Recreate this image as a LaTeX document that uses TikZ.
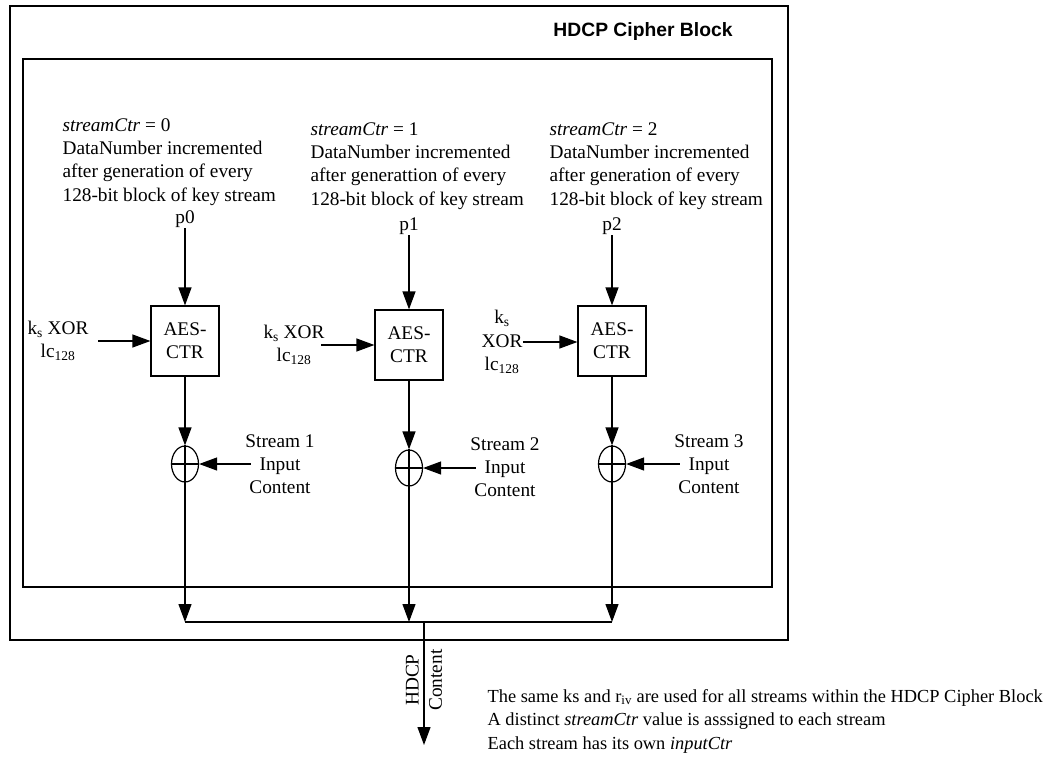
\documentclass[tikz,border=0pt]{standalone}
\usepackage{fontspec}
\setmainfont{Liberation Serif}
\newfontfamily\titlefont{Liberation Sans}
\usetikzlibrary{arrows.meta,shapes.geometric}
\begin{document}
\begin{tikzpicture}[x=1pt,y=-1pt,line width=1.2pt,
  txt/.style={inner sep=0pt,font=\fontsize{19.3}{23.2}\selectfont},
  aesbox/.style={draw,minimum width=68pt,minimum height=70pt,inner sep=0pt,align=center,
    font=\fontsize{19.3}{23.2}\selectfont},
  xorc/.style={draw,ellipse,minimum width=27pt,minimum height=36pt,inner sep=0pt},
  arr/.style={-{Triangle[length=18pt,width=13pt]}},
  frame/.style={draw,line width=1.2pt}]
\useasboundingbox (0,0) rectangle (1051,765);
% frames
\draw[frame] (10,6) rectangle (788,640);
\draw[frame] (23,59) rectangle (772,587);
\node[inner sep=0pt,font=\titlefont\bfseries\fontsize{19.3}{23.2}\selectfont] (title) at (643,32) {HDCP Cipher Block};
% column texts
\node[txt,anchor=west,align=left] (t0) at (62,162) {\textit{streamCtr} = 0\\DataNumber incremented\\after generation of every\\128-bit block of key stream};
\node[txt,anchor=west,align=left] (t1) at (310,166) {\textit{streamCtr} = 1\\DataNumber incremented\\after generattion of every\\128-bit block of key stream};
\node[txt,anchor=west,align=left] (t2) at (549,166) {\textit{streamCtr} = 2\\DataNumber incremented\\after generation of every\\128-bit block of key stream};
\node[txt] (p0) at (185,219) {p0};
\node[txt] (p1) at (409,226) {p1};
\node[txt] (p2) at (612,226) {p2};
% AES boxes
\node[aesbox] (aes1) at (185,341) {AES-\\CTR};
\node[aesbox] (aes2) at (409,345) {AES-\\CTR};
\node[aesbox] (aes3) at (612,341) {AES-\\CTR};
\draw[arr] (p0) -- (aes1);
\draw[arr] (p1) -- (aes2);
\draw[arr] (p2) -- (aes3);
% key inputs
\node[txt,align=center] (k1) at (58,341) {k\textsubscript{s} XOR\\lc\textsubscript{128}};
\node[txt,align=center] (k2) at (294,345) {k\textsubscript{s} XOR\\lc\textsubscript{128}};
\node[txt,align=center] (k3) at (502,342) {k\textsubscript{s}\\XOR\\lc\textsubscript{128}};
\draw[arr] ([xshift=9pt]k1.east) -- (aes1.west);
\draw[arr] ([xshift=-4pt]k2.east) -- (aes2.west);
\draw[arr] (k3.east) -- (aes3.west |- k3.east);
% XOR circles
\node[xorc] (x1) at (185,464) {};
\node[xorc] (x2) at (409,468) {};
\node[xorc] (x3) at (612,464) {};
\foreach \n in {x1,x2,x3}{
  \draw (\n.north) -- (\n.south);
  \draw (\n.west) -- (\n.east);
}
\draw[arr] (aes1) -- (x1);
\draw[arr] (aes2) -- (x2);
\draw[arr] (aes3) -- (x3);
% stream inputs
\node[txt,align=center] (s1) at (280,464) {Stream 1\\Input\\Content};
\node[txt,align=center] (s2) at (505,467) {Stream 2\\Input\\Content};
\node[txt,align=center] (s3) at (709,464) {Stream 3\\Input\\Content};
\draw[arr] ([xshift=6pt]s1.west) -- (x1.east);
\draw[arr] ([xshift=6pt]s2.west |- x2.east) -- (x2.east);
\draw[arr] ([xshift=6pt]s3.west) -- (x3.east);
% combiner
\coordinate (c1) at (185,622);
\coordinate (c2) at (409,622);
\coordinate (c3) at (612,622);
\coordinate (co) at (424,622);
\coordinate (ce) at (424,745);
\draw (c1) -- (c3);
\draw[arr] (x1.south) -- (c1);
\draw[arr] (x2.south) -- (c2);
\draw[arr] (x3.south) -- (c3);
\draw[arr] (co) -- (ce);
\node[txt,align=center,rotate=90] (out) at (424,680) {HDCP\\Content};
% notes
\node[inner sep=0pt,anchor=west,align=left,font=\fontsize{18.4}{23.5}\selectfont] (notes) at (487,721)
 {The same ks and r\textsubscript{iv} are used for all streams within the HDCP Cipher Block\\
  A distinct \textit{streamCtr} value is asssigned to each stream\\
  Each stream has its own \textit{inputCtr}};
\end{tikzpicture}
\end{document}
